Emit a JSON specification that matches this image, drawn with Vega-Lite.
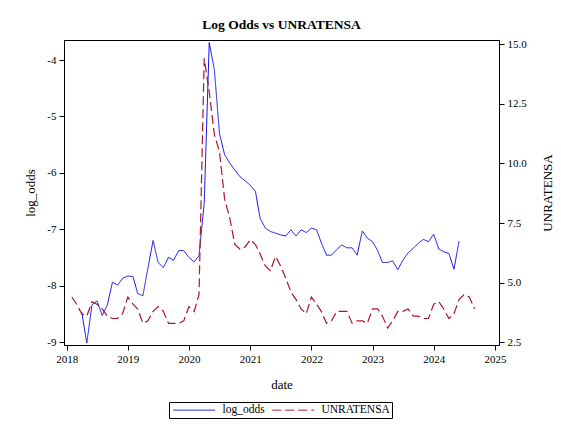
{
  "$schema": "https://vega.github.io/schema/vega-lite/v6.json",
  "width": 435,
  "height": 305,
  "autosize": "none",
  "padding": {"left": 64, "top": 40, "right": 62, "bottom": 79},
  "background": "white",
  "title": {"text": "Log Odds vs UNRATENSA", "font": "Liberation Serif", "fontSize": 13.5, "fontWeight": "bold", "color": "black", "anchor": "middle", "baseline": "alphabetic", "offset": -4},
  "data": {"values": [
    {"date": "2018-02-01", "UNRATENSA": 4.4},
    {"date": "2018-03-01", "UNRATENSA": 4.1},
    {"date": "2018-04-01", "log_odds": -8.47, "UNRATENSA": 3.7},
    {"date": "2018-05-01", "log_odds": -9.02, "UNRATENSA": 3.6},
    {"date": "2018-06-01", "log_odds": -8.34, "UNRATENSA": 4.2},
    {"date": "2018-07-01", "log_odds": -8.27, "UNRATENSA": 4.1},
    {"date": "2018-08-01", "log_odds": -8.53, "UNRATENSA": 3.9},
    {"date": "2018-09-01", "log_odds": -8.34, "UNRATENSA": 3.6},
    {"date": "2018-10-01", "log_odds": -7.94, "UNRATENSA": 3.5},
    {"date": "2018-11-01", "log_odds": -7.99, "UNRATENSA": 3.5},
    {"date": "2018-12-01", "log_odds": -7.87, "UNRATENSA": 3.7},
    {"date": "2019-01-01", "log_odds": -7.83, "UNRATENSA": 4.4},
    {"date": "2019-02-01", "log_odds": -7.84, "UNRATENSA": 4.1},
    {"date": "2019-03-01", "log_odds": -8.14, "UNRATENSA": 3.9},
    {"date": "2019-04-01", "log_odds": -8.18, "UNRATENSA": 3.3},
    {"date": "2019-05-01", "log_odds": -7.69, "UNRATENSA": 3.4},
    {"date": "2019-06-01", "log_odds": -7.2, "UNRATENSA": 3.8},
    {"date": "2019-07-01", "log_odds": -7.59, "UNRATENSA": 4.0},
    {"date": "2019-08-01", "log_odds": -7.68, "UNRATENSA": 3.8},
    {"date": "2019-09-01", "log_odds": -7.5, "UNRATENSA": 3.3},
    {"date": "2019-10-01", "log_odds": -7.55, "UNRATENSA": 3.3},
    {"date": "2019-11-01", "log_odds": -7.38, "UNRATENSA": 3.3},
    {"date": "2019-12-01", "log_odds": -7.38, "UNRATENSA": 3.4},
    {"date": "2020-01-01", "log_odds": -7.5, "UNRATENSA": 4.0},
    {"date": "2020-02-01", "log_odds": -7.58, "UNRATENSA": 3.8},
    {"date": "2020-03-01", "log_odds": -7.47, "UNRATENSA": 4.5},
    {"date": "2020-04-01", "log_odds": -6.54, "UNRATENSA": 14.4},
    {"date": "2020-05-01", "log_odds": -3.69, "UNRATENSA": 13.0},
    {"date": "2020-06-01", "log_odds": -4.18, "UNRATENSA": 11.2},
    {"date": "2020-07-01", "log_odds": -5.3, "UNRATENSA": 10.5},
    {"date": "2020-08-01", "log_odds": -5.68, "UNRATENSA": 8.5},
    {"date": "2020-09-01", "log_odds": -5.83, "UNRATENSA": 7.7},
    {"date": "2020-10-01", "log_odds": -5.95, "UNRATENSA": 6.6},
    {"date": "2020-11-01", "log_odds": -6.07, "UNRATENSA": 6.4},
    {"date": "2020-12-01", "log_odds": -6.14, "UNRATENSA": 6.5},
    {"date": "2021-01-01", "log_odds": -6.22, "UNRATENSA": 6.8},
    {"date": "2021-02-01", "log_odds": -6.33, "UNRATENSA": 6.6},
    {"date": "2021-03-01", "log_odds": -6.81, "UNRATENSA": 6.2},
    {"date": "2021-04-01", "log_odds": -6.98, "UNRATENSA": 5.7},
    {"date": "2021-05-01", "log_odds": -7.04, "UNRATENSA": 5.5},
    {"date": "2021-06-01", "log_odds": -7.07, "UNRATENSA": 6.1},
    {"date": "2021-07-01", "log_odds": -7.1, "UNRATENSA": 5.7},
    {"date": "2021-08-01", "log_odds": -7.12, "UNRATENSA": 5.2},
    {"date": "2021-09-01", "log_odds": -7.01, "UNRATENSA": 4.6},
    {"date": "2021-10-01", "log_odds": -7.12, "UNRATENSA": 4.3},
    {"date": "2021-11-01", "log_odds": -7.01, "UNRATENSA": 3.9},
    {"date": "2021-12-01", "log_odds": -7.06, "UNRATENSA": 3.7},
    {"date": "2022-01-01", "log_odds": -6.98, "UNRATENSA": 4.4},
    {"date": "2022-02-01", "log_odds": -7.01, "UNRATENSA": 4.1},
    {"date": "2022-03-01", "log_odds": -7.24, "UNRATENSA": 3.8},
    {"date": "2022-04-01", "log_odds": -7.46, "UNRATENSA": 3.3},
    {"date": "2022-05-01", "log_odds": -7.46, "UNRATENSA": 3.4},
    {"date": "2022-06-01", "log_odds": -7.36, "UNRATENSA": 3.8},
    {"date": "2022-07-01", "log_odds": -7.28, "UNRATENSA": 3.8},
    {"date": "2022-08-01", "log_odds": -7.33, "UNRATENSA": 3.8},
    {"date": "2022-09-01", "log_odds": -7.33, "UNRATENSA": 3.3},
    {"date": "2022-10-01", "log_odds": -7.46, "UNRATENSA": 3.4},
    {"date": "2022-11-01", "log_odds": -7.03, "UNRATENSA": 3.4},
    {"date": "2022-12-01", "log_odds": -7.16, "UNRATENSA": 3.3},
    {"date": "2023-01-01", "log_odds": -7.22, "UNRATENSA": 3.9},
    {"date": "2023-02-01", "log_odds": -7.38, "UNRATENSA": 3.9},
    {"date": "2023-03-01", "log_odds": -7.59, "UNRATENSA": 3.6},
    {"date": "2023-04-01", "log_odds": -7.59, "UNRATENSA": 3.1},
    {"date": "2023-05-01", "log_odds": -7.56, "UNRATENSA": 3.4},
    {"date": "2023-06-01", "log_odds": -7.72, "UNRATENSA": 3.8},
    {"date": "2023-07-01", "log_odds": -7.55, "UNRATENSA": 3.8},
    {"date": "2023-08-01", "log_odds": -7.42, "UNRATENSA": 3.9},
    {"date": "2023-09-01", "log_odds": -7.34, "UNRATENSA": 3.6},
    {"date": "2023-10-01", "log_odds": -7.25, "UNRATENSA": 3.6},
    {"date": "2023-11-01", "log_odds": -7.18, "UNRATENSA": 3.5},
    {"date": "2023-12-01", "log_odds": -7.22, "UNRATENSA": 3.5},
    {"date": "2024-01-01", "log_odds": -7.09, "UNRATENSA": 4.1},
    {"date": "2024-02-01", "log_odds": -7.35, "UNRATENSA": 4.2},
    {"date": "2024-03-01", "log_odds": -7.4, "UNRATENSA": 3.9},
    {"date": "2024-04-01", "log_odds": -7.43, "UNRATENSA": 3.5},
    {"date": "2024-05-01", "log_odds": -7.71, "UNRATENSA": 3.7},
    {"date": "2024-06-01", "log_odds": -7.21, "UNRATENSA": 4.3},
    {"date": "2024-07-01", "UNRATENSA": 4.5},
    {"date": "2024-08-01", "UNRATENSA": 4.4},
    {"date": "2024-09-01", "UNRATENSA": 3.9}
  ]},
  "encoding": {
    "x": {
      "field": "date", "type": "temporal",
      "scale": {"type": "utc", "domain": [{"year": 2017, "month": 12, "date": 16, "utc": true}, {"year": 2025, "month": 1, "date": 25, "utc": true}], "nice": false},
      "axis": {"title": "date", "format": "%Y", "tickCount": {"interval": "year", "step": 1}, "labelFlush": false, "labelOverlap": false, "titlePadding": 14}
    }
  },
  "layer": [
    {
      "mark": {"type": "line", "strokeWidth": 1, "interpolate": "linear"},
      "encoding": {
        "y": {"field": "log_odds", "type": "quantitative",
          "scale": {"domain": [-9.053, -3.645], "nice": false, "zero": false},
          "axis": {"title": "log_odds", "orient": "left", "values": [-9, -8, -7, -6, -5, -4], "labelExpr": "toString(datum.value)", "titlePadding": 9}},
        "color": {"datum": "log_odds", "type": "nominal",
          "scale": {"domain": ["log_odds", "UNRATENSA"], "range": ["#1010e8", "#a8172f"]},
          "legend": {"title": null}},
        "strokeDash": {"datum": "log_odds", "type": "nominal",
          "scale": {"domain": ["log_odds", "UNRATENSA"], "range": [[1, 0], [9, 4]]},
          "legend": {"title": null}}
      }
    },
    {
      "mark": {"type": "line", "strokeWidth": 1.2, "interpolate": "linear"},
      "encoding": {
        "y": {"field": "UNRATENSA", "type": "quantitative",
          "scale": {"domain": [2.39, 15.17], "nice": false, "zero": false},
          "axis": {"title": "UNRATENSA", "orient": "right", "values": [2.5, 5, 7.5, 10, 12.5, 15], "format": ".1f", "titleAngle": 270, "titlePadding": 28}},
        "color": {"datum": "UNRATENSA", "type": "nominal"},
        "strokeDash": {"datum": "UNRATENSA", "type": "nominal"}
      }
    }
  ],
  "resolve": {"scale": {"y": "independent"}},
  "config": {
    "view": {"stroke": "black", "strokeWidth": 1},
    "font": "Liberation Serif",
    "style": {"guide-label": {"font": "Liberation Serif"}, "guide-title": {"font": "Liberation Serif"}},
    "axis": {
      "grid": false,
      "domainColor": "black",
      "tickColor": "black",
      "tickSize": 5,
      "labelPadding": 3,
      "labelFont": "Liberation Serif",
      "labelFontSize": 11,
      "labelColor": "black",
      "titleFont": "Liberation Serif",
      "titleFontSize": 13,
      "titleFontWeight": "normal",
      "titleColor": "black"
    },
    "legend": {
      "orient": "none",
      "legendX": 105,
      "legendY": 362,
      "direction": "horizontal",
      "strokeColor": "black",
      "fillColor": "white",
      "padding": 2,
      "symbolType": "M-6,0H6",
      "symbolSize": 49,
      "symbolOffset": 17.5,
      "symbolStrokeWidth": 1,
      "labelFont": "Liberation Serif",
      "labelFontSize": 11.5,
      "labelColor": "black",
      "labelOffset": 22.5,
      "columnPadding": 5
    }
  }
}
